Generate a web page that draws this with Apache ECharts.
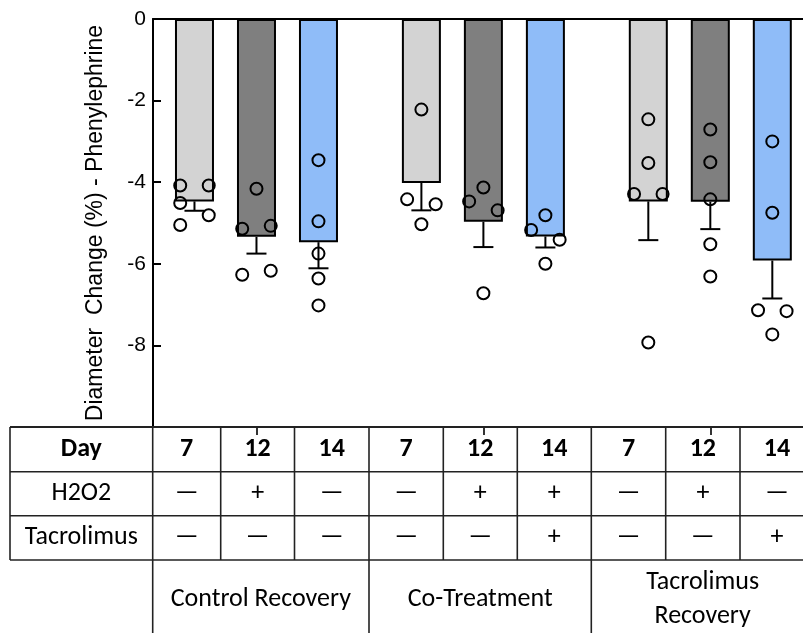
<!DOCTYPE html>
<html>
<head>
<meta charset="utf-8">
<script src="https://cdn.jsdelivr.net/npm/echarts@6/dist/echarts.min.js"></script>
<style>html,body{margin:0;padding:0;background:#fff;}#c{width:803px;height:633px;}</style>
</head>
<body>
<div id="c"></div>
<script>
// ---- data ----
const groups = ['Control Recovery', 'Co-Treatment', 'Tacrolimus\nRecovery'];
const days = ['7', '12', '14'];
const h2o2 = ['—', '+', '—', '—', '+', '+', '—', '+', '—'];
const tacrolimus = ['—', '—', '—', '—', '—', '+', '—', '—', '+'];
const yTicks = [0, -2, -4, -6, -8];
const means = [-4.47, -5.34, -5.47, -4.02, -4.97, -5.33, -4.47, -4.48, -5.92];
const sems = [0.23, 0.41, 0.64, 0.67, 0.62, 0.27, 0.95, 0.67, 0.93];
const points = [
  [-4.08, -4.08, -4.51, -4.81, -5.05],
  [-4.16, -5.14, -5.07, -6.27, -6.17],
  [-3.46, -4.96, -5.75, -6.36, -7.02],
  [-2.22, -4.42, -4.54, -5.03],
  [-4.13, -4.47, -4.69, -6.72],
  [-4.81, -5.17, -5.41, -6.00],
  [-2.46, -3.53, -4.29, -4.29, -7.93],
  [-2.71, -3.51, -4.42, -5.52, -6.31],
  [-3.00, -4.75, -7.14, -7.16, -7.73]
];
// horizontal side of each dot: -1 left, 0 centre, 1 right
const pointSide = [
  [-1, 1, -1, 1, -1],
  [0, -1, 1, -1, 1],
  [0, 0, 0, 0, 0],
  [0, -1, 1, 0],
  [0, -1, 1, 0],
  [0, -1, 1, 0],
  [0, 0, -1, 1, 0],
  [0, 0, 0, 0, 0],
  [0, 0, -1, 1, 0]
];

// ---- layout ----
const dayColors = ['#d3d3d3', '#7f7f7f', '#8fbcf8'];
const GROUP_STEP = 3.66;
const JIT = 0.23;
const X_MIN = -0.669, X_MAX = 9.815;
const barX = (i) => Math.floor(i / 3) * GROUP_STEP + (i % 3);
const groupCenters = groups.map((g, gi) => gi * GROUP_STEP + 1);

const barData = means.map((m, i) => ({
  value: [barX(i), m],
  itemStyle: { color: dayColors[i % 3] }
}));
const errData = means.map((m, i) => [barX(i), m, m - sems[i]]);
const dotData = [];
points.forEach((arr, i) => arr.forEach((v, k) => dotData.push([barX(i) + pointSide[i][k] * JIT, v])));

// ---- table (graphic) ----
const colX = [10, 152.7, 220.7, 294.5, 369, 443.3, 517.3, 591.3, 665.7, 740, 814];
const rowY = [427, 471.7, 515.7, 560];
const groupEdges = [152.7, 369, 591.3, 814];
const BOTTOM = 633;
const tableFont = 'Carlito, Lato, sans-serif';
const lineStyle = { stroke: '#222', lineWidth: 1.6 };
const g = [];
function hline(y, x1, x2, w) { g.push({ type: 'line', shape: { x1, y1: y, x2, y2: y }, style: { stroke: '#222', lineWidth: w || 1.6 }, z: 10 }); }
function vline(x, y1, y2) { g.push({ type: 'line', shape: { x1: x, y1, x2: x, y2 }, style: lineStyle, z: 10 }); }
function txt(s, x, y, bold, size) {
  g.push({ type: 'text', x, y, z: 10, style: { text: s, align: 'center', verticalAlign: 'middle', fontFamily: tableFont, fontSize: size || 26, fontWeight: bold ? 'bold' : 'normal', fill: '#000', lineHeight: 34 } });
}
hline(rowY[0], colX[0], 803, 2);
hline(rowY[1], colX[0], 803);
hline(rowY[2], colX[0], 803);
hline(rowY[3], colX[0], 803);
vline(colX[0], rowY[0], rowY[3]);
colX.slice(1).forEach((x) => {
  const isGroup = groupEdges.some((e) => Math.abs(e - x) < 0.5);
  vline(x, rowY[0], isGroup ? BOTTOM : rowY[3]);
});
const rowMid = (r) => (rowY[r] + rowY[r + 1]) / 2;
const labelCx = (colX[0] + colX[1]) / 2;
txt('Day', labelCx, rowMid(0), true);
txt('H2O2', labelCx, rowMid(1), false);
txt('Tacrolimus', labelCx, rowMid(2), false);
for (let i = 0; i < 9; i++) {
  const cx = (colX[i + 1] + colX[i + 2]) / 2;
  txt(days[i % 3], cx, rowMid(0), true);
  txt(h2o2[i], cx, rowMid(1), false);
  txt(tacrolimus[i], cx, rowMid(2), false);
}
groups.forEach((name, gi) => {
  const cx = (groupEdges[gi] + Math.min(groupEdges[gi + 1], 814)) / 2;
  txt(name, cx, 599, false);
});

const chart = echarts.init(document.getElementById('c'), null, { renderer: 'canvas' });
chart.setOption({
  animation: false,
  backgroundColor: '#fff',
  grid: { left: 153, right: 0, top: 19, bottom: 206, containLabel: false },
  xAxis: [
    {
      type: 'value', min: X_MIN, max: X_MAX, position: 'top',
      axisLine: { show: true, onZero: false, lineStyle: { color: '#000', width: 2 } },
      axisTick: { show: false }, axisLabel: { show: false }, splitLine: { show: false }
    },
    {
      type: 'value', min: X_MIN, max: X_MAX, position: 'bottom',
      axisLine: { show: false, onZero: false },
      axisTick: { show: true, inside: false, length: 8, customValues: groupCenters, lineStyle: { color: '#000', width: 1.6 } },
      axisLabel: { show: false }, splitLine: { show: false }
    }
  ],
  yAxis: {
    type: 'value', min: -10, max: 0, interval: 2,
    name: 'Diameter  Change (%) - Phenylephrine',
    nameLocation: 'middle', nameRotate: 90, nameGap: 46,
    nameTextStyle: { fontFamily: 'Liberation Sans, Arial, sans-serif', fontSize: 23, color: '#000' },
    axisLine: { show: true, onZero: false, lineStyle: { color: '#000', width: 2 } },
    axisTick: { show: true, inside: true, length: 8, lineStyle: { color: '#000', width: 2 } },
    axisLabel: {
      margin: 7, fontFamily: 'Liberation Sans, Arial, sans-serif', fontSize: 21, color: '#000',
      formatter: (v) => (yTicks.indexOf(v) >= 0 ? String(v) : '')
    },
    splitLine: { show: false }
  },
  series: [
    {
      type: 'bar', data: barData, barWidth: 39,
      itemStyle: { borderColor: '#000', borderWidth: 2 }, z: 2
    },
    {
      type: 'custom', data: errData, z: 3,
      renderItem: (params, api) => {
        const p1 = api.coord([api.value(0), api.value(1)]);
        const p2 = api.coord([api.value(0), api.value(2)]);
        const st = { stroke: '#000', lineWidth: 2 };
        return {
          type: 'group', children: [
            { type: 'line', shape: { x1: p1[0], y1: p1[1], x2: p2[0], y2: p2[1] }, style: st },
            { type: 'line', shape: { x1: p2[0] - 10, y1: p2[1], x2: p2[0] + 10, y2: p2[1] }, style: st }
          ]
        };
      }
    },
    {
      type: 'scatter', data: dotData, symbol: 'circle', symbolSize: 12, z: 4,
      itemStyle: { color: 'rgba(0,0,0,0)', borderColor: '#000', borderWidth: 2, opacity: 1 }
    }
  ],
  graphic: g
});
</script>
</body>
</html>
